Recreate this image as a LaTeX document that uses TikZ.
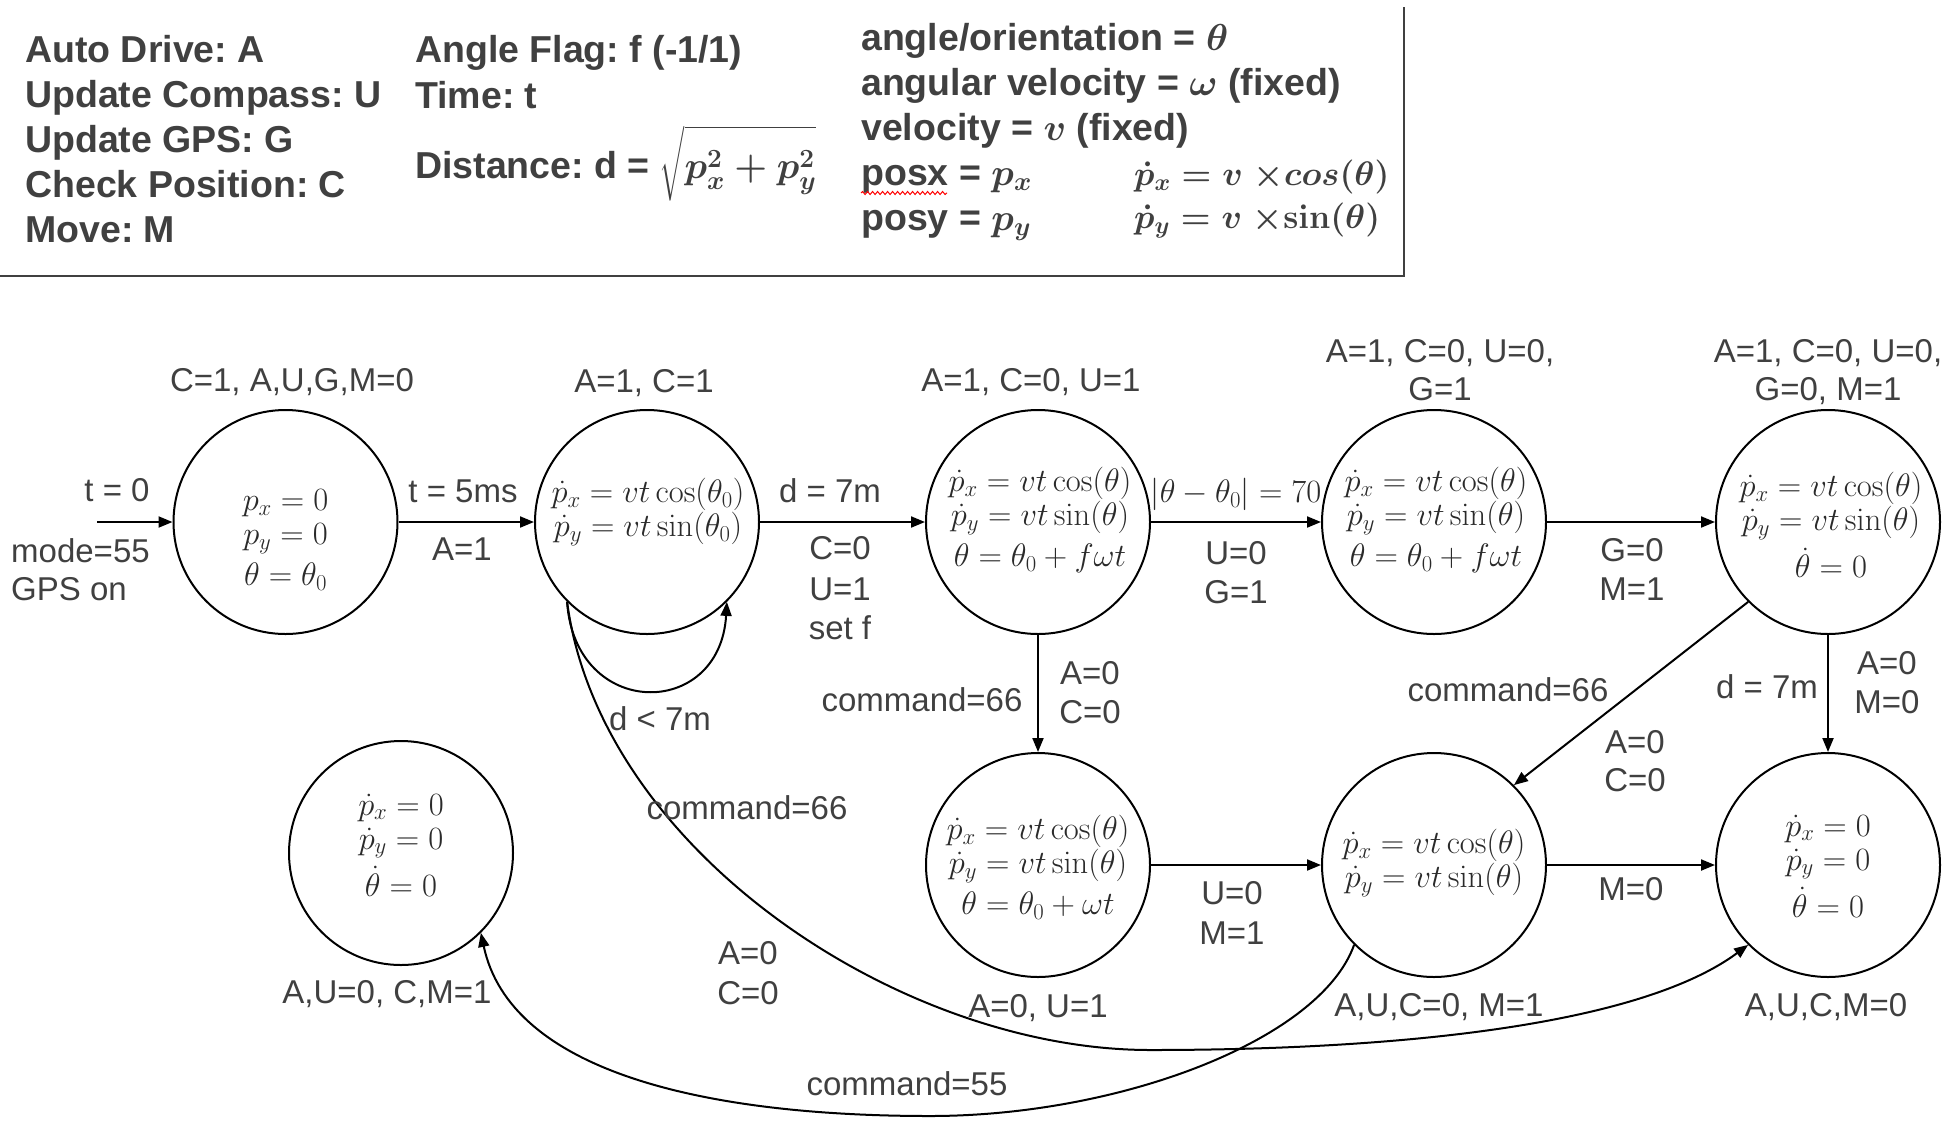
\documentclass[tikz,border=0pt]{standalone}
\usepackage{fix-cm}
\usepackage{amsmath}
\usepackage[no-math]{fontspec}
\setmainfont{Liberation Sans}
\usetikzlibrary{arrows.meta,decorations.pathmorphing}
\definecolor{dtext}{HTML}{404040}
\definecolor{mtext}{HTML}{2A2A2A}
\tikzset{
  stnode/.style={circle, draw=black, line width=2pt, minimum size=224pt, inner sep=0pt},
  lbl/.style={text=dtext, font=\fontsize{33}{38}\selectfont, inner sep=0pt, anchor=base},
  lgd/.style={text=dtext, font=\fontsize{37.5}{42}\selectfont\bfseries\frenchspacing, inner sep=0pt, anchor=base west},
  lgdm/.style={text=dtext, font=\fontsize{34}{40}\selectfont, inner sep=0pt, anchor=base west},
  eq/.style={text=mtext, font=\fontsize{32.5}{34}\selectfont, inner sep=0pt, align=center},
  arr/.style={-{Triangle[length=14pt,width=11pt]}, line width=2pt, draw=black},
  frame/.style={draw=dtext, line width=2.5pt},
}
\begin{document}
\begin{tikzpicture}[x=1pt,y=-1pt]
\useasboundingbox (0,0) rectangle (1956,1120);
% legend
\node[lgd] (g1) at (25,62) {Auto Drive: A};
\node[lgd] (g2) at (25,107) {Update Compass: U};
\node[lgd] (g3) at (25,152) {Update GPS: G};
\node[lgd] (g4) at (25,197) {Check Position: C};
\node[lgd] (g5) at (25,242) {Move: M};
\node[lgd] (g6) at (415,62) {Angle Flag: f (-1/1)};
\node[lgd] (g7) at (415,108) {Time: t};
\node[lgd] (g8) at (415,178) {Distance: d =\hspace{10pt}{\boldmath$\sqrt{\rule[-12pt]{0pt}{54pt}p_x^2+p_y^2}$}};
\node[lgd] (g9) at (861,50) {angle/orientation = {\boldmath$\theta$}};
\node[lgd] (g10) at (861,95) {angular velocity = {\boldmath$\omega$} (fixed)};
\node[lgd] (g11) at (861,140) {velocity = {\boldmath$v$} (fixed)};
\node[lgd] (g12) at (861,185) {posx = {\boldmath$p_x$}};
\node[lgd] (g13) at (861,230) {posy = {\boldmath$p_y$}};
\node[lgdm] (g14) at (1134,185) {{\boldmath$\dot{p}_x = v\;{\times}cos(\theta)$}};
\node[lgdm] (g15) at (1134,228) {{\boldmath$\dot{p}_y = v\;{\times}\mathbf{sin}(\theta)$}};
\coordinate (w1) at (861,193);
\coordinate (w2) at (947,193);
\draw[red, line width=1pt, decorate, decoration={snake, amplitude=1.5pt, segment length=5pt}] (w1) -- (w2);
\draw[frame] (0,276) -- (1404,276) -- (1404,7);

% states
\node[stnode] (S0) at (285.5,522) {};
\node[stnode] (S1) at (647,522) {};
\node[stnode] (S2) at (1038,522) {};
\node[stnode] (S3) at (1434,522) {};
\node[stnode] (S4) at (1828,522) {};
\node[stnode] (S2b) at (1038,865) {};
\node[stnode] (S5) at (1434,865) {};
\node[stnode] (S6) at (1828,865) {};
\node[stnode] (ST) at (401,853) {};

% state contents
\node[eq] (c0) at (285.5,540) {$p_x = 0$\\$p_y = 0$\\[7pt]$\theta = \theta_0$};
\node[eq] (c1) at (648,512) {$\dot{p}_x = vt\cos(\theta_0)$\\$\dot{p}_y = vt\sin(\theta_0)$};
\node[eq] (c2) at (1040,520) {$\dot{p}_x = vt\cos(\theta)$\\$\dot{p}_y = vt\sin(\theta)$\\[7pt]$\theta = \theta_0 + f\omega t$};
\node[eq] (c3) at (1436,520) {$\dot{p}_x = vt\cos(\theta)$\\$\dot{p}_y = vt\sin(\theta)$\\[7pt]$\theta = \theta_0 + f\omega t$};
\node[eq] (c4) at (1831,525) {$\dot{p}_x = vt\cos(\theta)$\\$\dot{p}_y = vt\sin(\theta)$\\[7pt]$\dot{\theta} = 0$};
\node[eq] (c5) at (1038,867) {$\dot{p}_x = vt\cos(\theta)$\\$\dot{p}_y = vt\sin(\theta)$\\[7pt]$\theta = \theta_0 + \omega t$};
\node[eq] (c6) at (1434,863) {$\dot{p}_x = vt\cos(\theta)$\\$\dot{p}_y = vt\sin(\theta)$};
\node[eq] (c7) at (1828,866) {$\dot{p}_x = 0$\\$\dot{p}_y = 0$\\[7pt]$\dot{\theta} = 0$};
\node[eq] (c8) at (401,845) {$\dot{p}_x = 0$\\$\dot{p}_y = 0$\\[7pt]$\dot{\theta} = 0$};

% state labels
\node[lbl] (L0) at (292,391) {C=1, A,U,G,M=0};
\node[lbl] (L1) at (644,392) {A=1, C=1};
\node[lbl] (L2) at (1031,391) {A=1, C=0, U=1};
\node[lbl] (L3a) at (1440,362) {A=1, C=0, U=0,};
\node[lbl] (L3b) at (1440,400) {G=1};
\node[lbl] (L4a) at (1828,362) {A=1, C=0, U=0,};
\node[lbl] (L4b) at (1828,400) {G=0, M=1};
\node[lbl] (L5) at (1038,1017) {A=0, U=1};
\node[lbl] (L6) at (1439,1016) {A,U,C=0, M=1};
\node[lbl] (L7) at (1826,1016) {A,U,C,M=0};
\node[lbl] (L8) at (387,1003) {A,U=0, C,M=1};

% edges
\coordinate (init) at (97,522);
\draw[arr] (init) -- (S0.west);
\draw[arr] (S0) -- (S1);
\draw[arr] (S1) -- (S2);
\draw[arr] (S2) -- (S3);
\draw[arr] (S3) -- (S4);
\draw[arr] (S2) -- (S2b);
\draw[arr] (S4) -- (S6);
\draw[arr] (S2b) -- (S5);
\draw[arr] (S5) -- (S6);
\draw[arr] (S4.225) -- (S5.45);
\draw[arr] (S1.225) .. controls (575,720) and (720,720) .. (S1.-45);
\draw[arr] (S1.225) .. controls (600,850) and (900,1050) .. (1150,1050)
  .. controls (1400,1050) and (1640,1025) .. (S6.225);
\draw[arr] (S5.225) .. controls (1320,1040) and (1120,1116) .. (930,1116)
  .. controls (700,1116) and (510,1070) .. (ST.-45);

% edge labels
\node[lbl] (e1) at (117,501) {t = 0};
\node[lbl, anchor=base west] (e2) at (11,562) {mode=55};
\node[lbl, anchor=base west] (e3) at (11,600) {GPS on};
\node[lbl] (e4) at (463,502) {t = 5ms};
\node[lbl] (e5) at (462,560) {A=1};
\node[lbl] (e6) at (830,502) {d = 7m};
\node[lbl] (e7) at (840,559) {C=0};
\node[lbl] (e8) at (840,600) {U=1};
\node[lbl] (e9) at (840,639) {set f};
\node[eq] (e10) at (1236,494) {$|\theta - \theta_0| = 70$};
\node[lbl] (e11) at (1236,564) {U=0};
\node[lbl] (e12) at (1236,603) {G=1};
\node[lbl] (e13) at (1632,561) {G=0};
\node[lbl] (e14) at (1632,600) {M=1};
\node[lbl] (e15) at (922,711) {command=66};
\node[lbl] (e16) at (1090,684) {A=0};
\node[lbl] (e17) at (1090,723) {C=0};
\node[lbl] (e18) at (1508,701) {command=66};
\node[lbl] (e19) at (1635,753) {A=0};
\node[lbl] (e20) at (1635,791) {C=0};
\node[lbl] (e21) at (1767,698) {d = 7m};
\node[lbl] (e22) at (1887,674) {A=0};
\node[lbl] (e23) at (1887,713) {M=0};
\node[lbl] (e24) at (1232,904) {U=0};
\node[lbl] (e25) at (1232,944) {M=1};
\node[lbl] (e26) at (1631,900) {M=0};
\node[lbl] (e27) at (747,819) {command=66};
\node[lbl] (e28) at (748,964) {A=0};
\node[lbl] (e29) at (748,1004) {C=0};
\node[lbl] (e30) at (907,1095) {command=55};
\node[lbl] (e31) at (660,730) {d < 7m};
\end{tikzpicture}
\end{document}
